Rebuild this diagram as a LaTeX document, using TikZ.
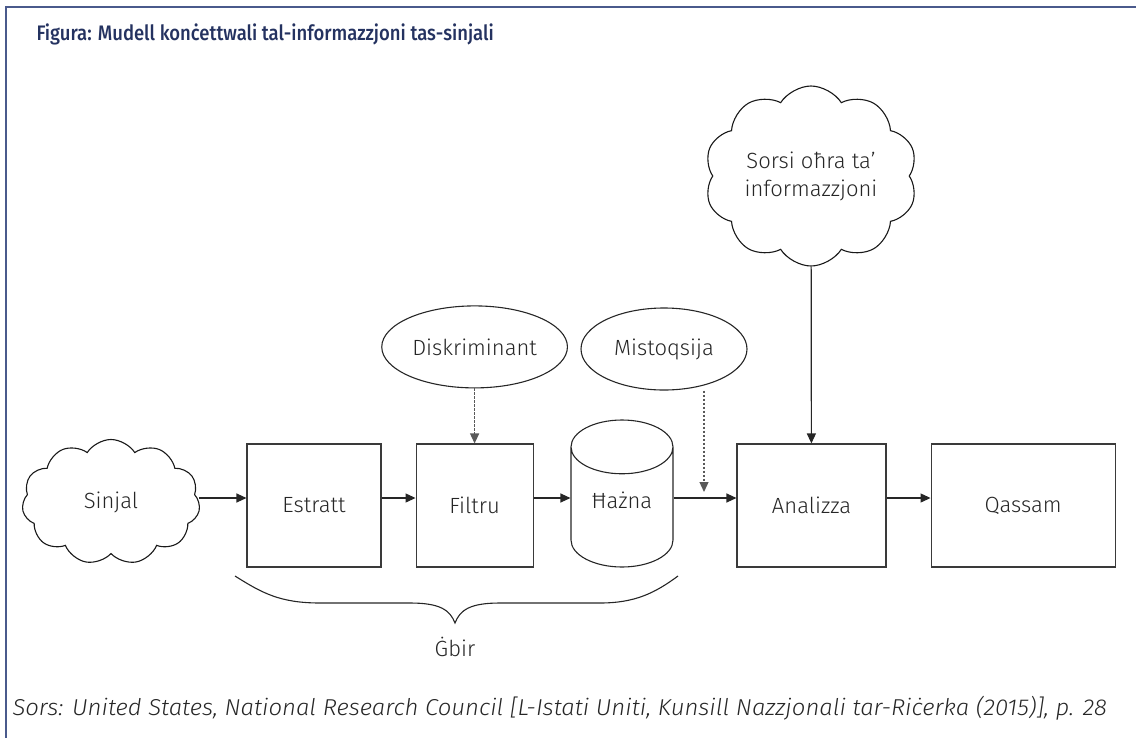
\documentclass[tikz,border=0pt]{standalone}
\usepackage{fontspec}
\setmainfont{Fira Sans}[UprightFont=* Light, ItalicFont=* Light Italic, BoldFont=* Medium]
\usetikzlibrary{shapes.geometric, shapes.symbols, arrows.meta, positioning}
\definecolor{framecol}{HTML}{4A5A8C}
\definecolor{titlecol}{HTML}{243260}
\definecolor{linecol}{HTML}{3A3A3A}
\newcommand{\boxfont}{\fontsize{22}{26}\selectfont}
\tikzstyle{process} = [rectangle, minimum height=123pt, text centered, draw=linecol, line width=1.1pt, text=black!85, font=\boxfont]
\tikzstyle{store} = [cylinder, shape border rotate=90, aspect=0.8, minimum width=102pt, minimum height=147pt, draw=black!85, line width=1.1pt, font=\boxfont]
\tikzstyle{input} = [ellipse, minimum width=180pt, minimum height=82pt, draw=black!85, line width=1.1pt, text=black!85, font=\boxfont]
\tikzstyle{source} = [cloud, cloud puffs=11, cloud puff arc=115, cloud ignores aspect, draw=black!90, line width=1.1pt, text=black!85, font=\boxfont, align=center]
\tikzstyle{arrow} = [line width=1.2pt, black!85, -{Triangle[length=10pt,width=9pt]}]
\tikzstyle{dotarrow} = [arrow, black!65, dash pattern=on 2.5pt off 1.5pt]

\begin{document}
\begin{tikzpicture}[x=1pt, y=-1pt]

    \useasboundingbox (0,0) rectangle (1136,737);
    \draw [framecol, line width=2pt] (6,740) |- (1140,7);

    \node (title) [anchor=base west, text=titlecol, font=\fontsize{21}{25}\selectfont\bfseries\addfontfeature{FakeStretch=0.88}] at (33,40) {Figura: Mudell konċettwali tal-informazzjoni tas-sinjali};

    \coordinate (flow) at (0,498);

    \node (sinjal)    [source, minimum width=178pt, minimum height=125pt]  at (111,502)   {Sinjal};
    \node (estratt)   [process, minimum width=134pt]                      at (314,505.5) {Estratt};
    \node (filtru)    [process, minimum width=117pt, right=34pt of estratt]   {Filtru};
    \node (hazna)     [store, anchor=shape center, label={[text=black!85, font=\boxfont, yshift=11.5pt]center:Ħażna}] at (622,493.5) {\phantom{Ħażna}};
    \node (analizza)  [process, minimum width=149pt] at (811.5,505.5) {Analizza};
    \node (qassam)    [process, minimum width=184pt, right=44pt of analizza]  {Qassam};

    \node (diskriminant) [input, above=55pt of filtru]   {Diskriminant};
    \node (mistoqsija)   [input, minimum width=166pt] at (664,349) {Mistoqsija};
    \node (sorsi)        [source, cloud puffs=10, minimum width=213pt, minimum height=180pt] at (811,176) {Sorsi oħra ta’\\[2pt]informazzjoni};

    \coordinate (drop) at (704,492);

    \draw [arrow]    (sinjal.east |- flow)   -- (estratt.west |- flow);
    \draw [arrow]    (estratt.east |- flow)  -- (filtru.west |- flow);
    \draw [arrow]    (filtru.east |- flow)   -- (hazna.west |- flow);
    \draw [arrow]    (hazna.east |- flow)    -- (analizza.west |- flow);
    \draw [arrow]    (analizza.east |- flow) -- (qassam.west |- flow);
    \draw [dotarrow] (diskriminant)          -- (filtru);
    \draw [dotarrow] (mistoqsija.south -| drop) -- (drop);
    \draw [arrow]    (sorsi)                 -- (analizza);

    % brace under the collection steps
    \draw [black!85, line width=1.1pt] (235,576) .. controls (262,593) and (280,603) .. (320,603)
        -- (410,603) .. controls (440,603) and (450,610) .. (455,623)
        .. controls (460,610) and (470,603) .. (500,603)
        -- (600,603) .. controls (635,603) and (655,593) .. (678,576);
    \node (gbir) [text=black!85, font=\boxfont] at (455,647) {Ġbir};

    \node (sors) [anchor=base west, text=black!85, font=\fontsize{23}{27}\selectfont\itshape\addfontfeature{FakeStretch=1.04}] at (9,715) {Sors: United States, National Research Council [L-Istati Uniti, Kunsill Nazzjonali tar-Riċerka (2015)], p. 28};

\end{tikzpicture}
\end{document}
